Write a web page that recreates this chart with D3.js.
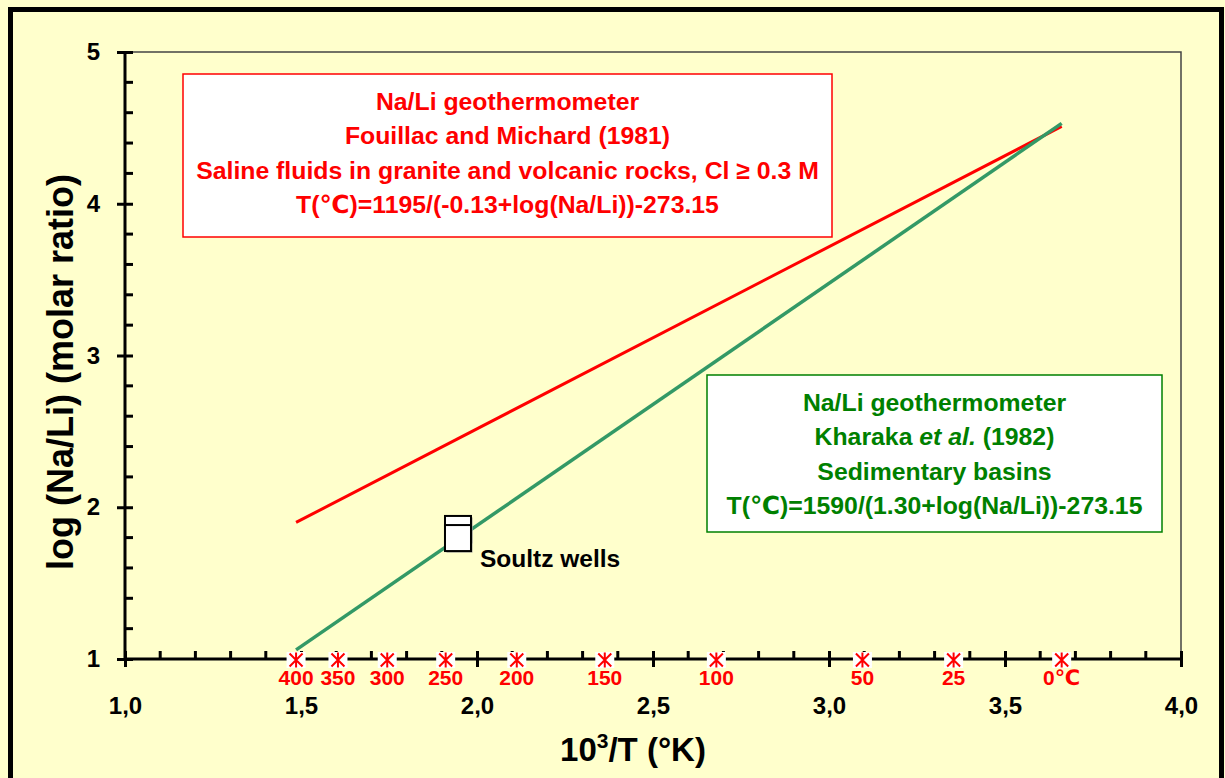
<!DOCTYPE html>
<html>
<head>
<meta charset="utf-8">
<script src="https://cdn.jsdelivr.net/npm/d3@7"></script>
<style>
  html, body { margin: 0; padding: 0; background: #FFFFCC; }
  svg { display: block; font-family: "Liberation Sans", Arial, "DejaVu Sans", sans-serif; font-weight: bold; }
</style>
</head>
<body>
<svg id="chart" width="1225" height="778"></svg>
<script>
// ---------- data ----------
const xMajorTicks = [1.0, 1.5, 2.0, 2.5, 3.0, 3.5, 4.0];
const xMinorTicks = [1.1,1.2,1.3,1.4,1.6,1.7,1.8,1.9,2.1,2.2,2.3,2.4,2.6,2.7,2.8,2.9,3.1,3.2,3.3,3.4,3.6,3.7,3.8,3.9];
const yMajorTicks = [1, 2, 3, 4, 5];
const yMinorTicks = [1.2,1.4,1.6,1.8,2.2,2.4,2.6,2.8,3.2,3.4,3.6,3.8,4.2,4.4,4.6,4.8];

// Na/Li lines (x = 10^3/T, y = log(Na/Li))
const fouillacX = [1.486, 3.661];
const fouillacY = [1.90, 4.51];
const kharakaX = [1.486, 3.661];
const kharakaY = [1.06, 4.53];

// Soultz wells
const soultzX = [1.946, 1.946];
const soultzY = [1.857, 1.797];

// temperature markers on the x axis
const tempLabels = ["400", "350", "300", "250", "200", "150", "100", "50", "25", "0℃"];
const tempX = [1.486, 1.605, 1.745, 1.911, 2.113, 2.363, 2.680, 3.095, 3.354, 3.661];

const fouillacText = ["Na/Li geothermometer", "Fouillac and Michard (1981)",
  "Saline fluids in granite and volcanic rocks, Cl ≥ 0.3 M", "T(℃)=1195/(-0.13+log(Na/Li))-273.15"];
const kharakaText = ["Na/Li geothermometer", "Kharaka |et al.| (1982)",
  "Sedimentary basins", "T(℃)=1590/(1.30+log(Na/Li))-273.15"];

// ---------- drawing ----------
const svg = d3.select("#chart");
const RED = "#FF0000", GREEN_T = "#008000", GREEN_L = "#339966";

svg.append("rect").attr("width", 1225).attr("height", 778).attr("fill", "#FFFFCC");
svg.append("rect").attr("x", 10.5).attr("y", 9.5).attr("width", 1211).attr("height", 820)
  .attr("fill", "none").attr("stroke", "#000").attr("stroke-width", 5);

const x = d3.scaleLinear().domain([1, 4]).range([125, 1181]);
const y = d3.scaleLinear().domain([1, 5]).range([659, 52]);

// plot frame (top & right)
svg.append("path")
  .attr("d", `M${x(1)},${y(5)}H${x(4)}V${y(1)}`)
  .attr("fill", "none").attr("stroke", "#444").attr("stroke-width", 1.5);

// text boxes
function textBox(x0, y0, w, h, color, lines, fill) {
  svg.append("rect").attr("x", x0).attr("y", y0).attr("width", w).attr("height", h)
    .attr("fill", "#fff").attr("stroke", color).attr("stroke-width", 1.5);
  lines.forEach((ln, i) => {
    const t = svg.append("text").attr("x", x0 + w / 2).attr("y", y0 + 36 + i * 34.3)
      .attr("text-anchor", "middle").attr("fill", fill).attr("font-size", 24.8);
    ln.split("|").forEach((part, j) => {
      t.append("tspan").text(part).attr("font-style", j % 2 === 1 ? "italic" : "normal");
    });
  });
}
textBox(183, 74, 649, 163, RED, fouillacText, RED);
textBox(707, 375, 455, 157, GREEN_T, kharakaText, GREEN_T);

// lines
const line = d3.line().x(d => x(d[0])).y(d => y(d[1]));
svg.append("path").datum(d3.zip(fouillacX, fouillacY)).attr("d", line)
  .attr("fill", "none").attr("stroke", RED).attr("stroke-width", 3);
svg.append("path").datum(d3.zip(kharakaX, kharakaY)).attr("d", line)
  .attr("fill", "none").attr("stroke", GREEN_L).attr("stroke-width", 3.5);

// Soultz squares
const sq = 26;
d3.zip(soultzX, soultzY).forEach(d => {
  svg.append("rect").attr("x", x(d[0]) - sq / 2 + 1.5).attr("y", y(d[1]) - sq / 2 + 1.5)
    .attr("width", sq).attr("height", sq).attr("fill", "#999");
  svg.append("rect").attr("x", x(d[0]) - sq / 2).attr("y", y(d[1]) - sq / 2)
    .attr("width", sq).attr("height", sq).attr("fill", "#fff").attr("stroke", "#000").attr("stroke-width", 2);
});
svg.append("text").attr("x", 480).attr("y", 567).attr("font-size", 24.5).attr("fill", "#000").text("Soultz wells");

// x axis
const xAxis = d3.axisBottom(x).tickValues(xMajorTicks).tickSize(8).tickPadding(30)
  .tickFormat(d => d.toFixed(1).replace(".", ","));
const gx = svg.append("g").attr("transform", `translate(0,${y(1)})`).call(xAxis);
gx.select(".domain").attr("stroke", "#000").attr("stroke-width", 3).attr("d", `M${x(1)},0H${x(4)}`);
gx.selectAll(".tick line").attr("y1", -8).attr("stroke", "#000").attr("stroke-width", 3);
gx.selectAll(".tick text").attr("font-size", 24).attr("font-family", "Liberation Sans, Arial, sans-serif")
  .attr("font-weight", "bold").attr("fill", "#000").attr("dy", "0.71em");
svg.append("g").selectAll("line").data(xMinorTicks).join("line")
  .attr("x1", d => x(d)).attr("x2", d => x(d)).attr("y1", y(1) - 8).attr("y2", y(1))
  .attr("stroke", "#000").attr("stroke-width", 3);

// y axis
const yAxis = d3.axisLeft(y).tickValues(yMajorTicks).tickSize(8).tickPadding(17).tickFormat(d3.format("d"));
const gy = svg.append("g").attr("transform", `translate(${x(1)},0)`).call(yAxis);
gy.select(".domain").attr("stroke", "#000").attr("stroke-width", 3).attr("d", `M0,${y(5)}V${y(1)}`);
gy.selectAll(".tick line").attr("x2", 8).attr("x1", -8).attr("stroke", "#000").attr("stroke-width", 3);
gy.selectAll(".tick text").attr("font-size", 24).attr("font-family", "Liberation Sans, Arial, sans-serif")
  .attr("font-weight", "bold").attr("fill", "#000");
svg.append("g").selectAll("line").data(yMinorTicks).join("line")
  .attr("x1", x(1)).attr("x2", x(1) + 8).attr("y1", d => y(d)).attr("y2", d => y(d))
  .attr("stroke", "#000").attr("stroke-width", 3);

// temperature markers
const tg = svg.append("g");
tempX.forEach((tx, i) => {
  const cx = x(tx), cy = y(1) + 1;
  tg.append("rect").attr("x", cx - 9.5).attr("y", cy - 8).attr("width", 19).attr("height", 16).attr("fill", "#fff");
  tg.append("path")
    .attr("d", `M${cx},${cy - 7.5}V${cy + 7.5}M${cx - 6.5},${cy - 6.5}L${cx + 6.5},${cy + 6.5}M${cx + 6.5},${cy - 6.5}L${cx - 6.5},${cy + 6.5}`)
    .attr("stroke", RED).attr("stroke-width", 2).attr("fill", "none");
  tg.append("text").attr("x", cx).attr("y", 685).attr("text-anchor", "middle")
    .attr("font-size", 21).attr("fill", RED).text(tempLabels[i]);
});

// axis titles
const xt = svg.append("text").attr("x", 633).attr("y", 761).attr("text-anchor", "middle").attr("font-size", 33).attr("fill", "#000");
xt.append("tspan").text("10");
xt.append("tspan").text("3").attr("font-size", 21).attr("dy", -13);
xt.append("tspan").text("/T (°K)").attr("dy", 13);

svg.append("text").attr("transform", "translate(73,372) rotate(-90)").attr("text-anchor", "middle")
  .attr("font-size", 36).attr("fill", "#000").text("log (Na/Li) (molar ratio)");
</script>
</body>
</html>
